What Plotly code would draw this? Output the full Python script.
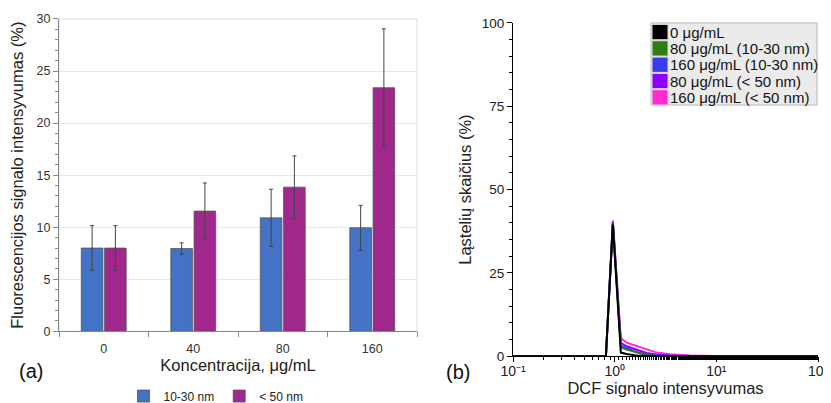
import plotly.graph_objects as go

# ---- Panel (a) data ----
categories = ["0", "40", "80", "160"]
small_vals = [8.0, 7.95, 10.9, 9.95]
small_err = [2.15, 0.55, 2.75, 2.15]
large_vals = [8.0, 11.55, 13.85, 23.4]
large_err = [2.15, 2.7, 3.0, 5.65]
bar_names = ["10-30 nm", "< 50 nm"]

# ---- Panel (b) data ----
dcf_x = [0.1, 0.82, 0.96, 1.15, 1.31, 1.64, 2.06, 2.59, 3.5, 5.5, 10, 30, 100]
c0 = [0, 0, 39.5, 1.1, 0.7, 0.2, 0.05, 0, 0, 0, 0, 0, 0]
c80_small = [0, 0, 39.8, 2.6, 2.0, 1.2, 0.4, 0.1, 0, 0, 0, 0, 0]
c160_small = [0, 0, 40.0, 3.2, 2.4, 1.3, 0.5, 0.2, 0.05, 0, 0, 0, 0]
c80_large = [0, 0, 40.3, 4.0, 3.0, 2.0, 1.0, 0.5, 0.2, 0.05, 0, 0, 0]
c160_large = [0, 0, 40.7, 5.4, 4.1, 3.1, 1.9, 1.1, 0.6, 0.2, 0.05, 0, 0]
curve_names = ["0 μg/mL", "80 μg/mL (10-30 nm)", "160 μg/mL (10-30 nm)",
               "80 μg/mL (< 50 nm)", "160 μg/mL (< 50 nm)"]
curve_colors = ["#000000", "#2d7d10", "#3a3aee", "#8c00ff", "#ff2bd1"]
curves = [c0, c80_small, c160_small, c80_large, c160_large]
log_tickvals = [0.1, 1, 10, 100]
log_ticktext = ["10⁻¹", "10⁰", "10¹", "10²"]

FONT = "Liberation Sans, Arial, sans-serif"
W, H = 831, 403
OFF = 8  # page body margin offsets the figure inside the window


def px(X):
    return (X - OFF) / W


def py(Y):
    return 1 - (Y - OFF) / H


fig = go.Figure()

bar_colors = ["#4472C4", "#A0288C"]
for name, vals, errs, col in zip(bar_names, [small_vals, large_vals],
                                 [small_err, large_err], bar_colors):
    fig.add_trace(go.Bar(
        x=categories, y=vals, name=name, marker_color=col,
        marker_line=dict(color="#555555", width=0.8),
        error_y=dict(type="data", array=errs, color="#444444", thickness=1, width=2),
        xaxis="x", yaxis="y"))

# curves drawn back to front: magenta first, black last
for i in reversed(range(5)):
    fig.add_trace(go.Scatter(
        x=dcf_x, y=curves[i], mode="lines", name=curve_names[i],
        line=dict(color=curve_colors[i], width=2),
        showlegend=False, xaxis="x2", yaxis="y2"))

# boxed legend of panel (b), laid out in paper space
LX0, LX1, LY0, ROW = 651, 817, 23, 16.4
shapes = [
    dict(type="rect", xref="paper", yref="paper",
         x0=px(59), x1=px(417), y0=py(333), y1=py(19),
         line=dict(color="#dddddd", width=1), layer="below"),
    dict(type="rect", xref="paper", yref="paper",
         x0=px(LX0), x1=px(LX1), y0=py(LY0 + ROW * len(curve_names) + 0.5), y1=py(LY0),
         fillcolor="#ebebeb", line=dict(color="#b8b8b8", width=1)),
]
annotations = [
    dict(text="(a)", x=px(31), y=py(373), xref="paper", yref="paper",
         showarrow=False, font=dict(size=20, color="#111111"), xanchor="center", yanchor="middle"),
    dict(text="(b)", x=px(458), y=py(374), xref="paper", yref="paper",
         showarrow=False, font=dict(size=20, color="#111111"), xanchor="center", yanchor="middle"),
]
for i, (name, col) in enumerate(zip(curve_names, curve_colors)):
    top = LY0 + 1 + ROW * i
    shapes.append(dict(type="rect", xref="paper", yref="paper",
                       x0=px(LX0 + 1), x1=px(LX0 + 17), y0=py(top + ROW - 0.5), y1=py(top + 0.5),
                       fillcolor=col, line=dict(color="#dcdcdc", width=1)))
    annotations.append(dict(text=name, x=px(LX0 + 17), y=py(top + ROW / 2), xref="paper", yref="paper",
                            showarrow=False, xanchor="left", yanchor="middle",
                            font=dict(size=15, color="#111111")))

fig.update_layout(
    width=W, height=H,
    margin=dict(l=0, r=0, t=0, b=0),
    paper_bgcolor="white", plot_bgcolor="white",
    font=dict(family=FONT, color="#222222"),
    barmode="group", bargap=0.48, bargroupgap=0.07,
    xaxis=dict(domain=[px(59), px(417)], anchor="y", type="category",
               showline=True, linecolor="#888888", linewidth=1,
               ticks="outside", ticklen=5, tickcolor="#888888", tickson="boundaries",
               ticklabelstandoff=6,
               tickfont=dict(size=12.5, color="#333333"),
               title=dict(text="Koncentracija, μg/mL", font=dict(size=16.5), standoff=2),
               automargin=False, showgrid=False),
    yaxis=dict(domain=[py(333), py(19)], anchor="x", range=[0, 30], dtick=5,
               showline=True, linecolor="#888888", linewidth=1,
               ticks="outside", ticklen=5, tickcolor="#888888",
               minor=dict(dtick=1, ticks="outside", ticklen=3, tickcolor="#888888", showgrid=False),
               showgrid=True, gridcolor="#e8e8e8", zeroline=False,
               tickfont=dict(size=12.5, color="#333333"),
               title=dict(text="Fluorescencijos signalo intensyvumas (%)", font=dict(size=16.5), standoff=9),
               automargin=False),
    xaxis2=dict(domain=[px(513), px(818)], anchor="y2", type="log", range=[-1, 2],
                tickvals=log_tickvals, ticktext=log_ticktext,
                showline=True, linecolor="#000000", linewidth=1,
                ticks="outside", ticklen=5, tickcolor="#000000",
                ticklabelstandoff=-3, ticklabeloverflow="allow",
                minor=dict(ticks="outside", ticklen=3, tickcolor="#000000", showgrid=False),
                showgrid=False, tickfont=dict(size=14, color="#222222"),
                title=dict(text="DCF signalo intensyvumas", font=dict(size=16.5), standoff=0),
                automargin=False),
    yaxis2=dict(domain=[py(358), py(23)], anchor="x2", range=[0, 100], dtick=25,
                showline=True, linecolor="#000000", linewidth=1,
                ticks="outside", ticklen=5, tickcolor="#000000",
                minor=dict(dtick=5, ticks="outside", ticklen=3, tickcolor="#000000", showgrid=False),
                showgrid=False, zeroline=False, tickfont=dict(size=13.5, color="#222222"),
                title=dict(text="Ląstelių skaičius (%)", font=dict(size=16.5), standoff=5),
                automargin=False),
    showlegend=True,
    legend=dict(orientation="h", x=px(216), xanchor="center", y=py(398), yanchor="middle",
                font=dict(size=12), itemwidth=30, bgcolor="rgba(0,0,0,0)",
                traceorder="normal"),
    shapes=shapes,
    annotations=annotations,
)

fig.write_html("out.html", config={"displayModeBar": False})
